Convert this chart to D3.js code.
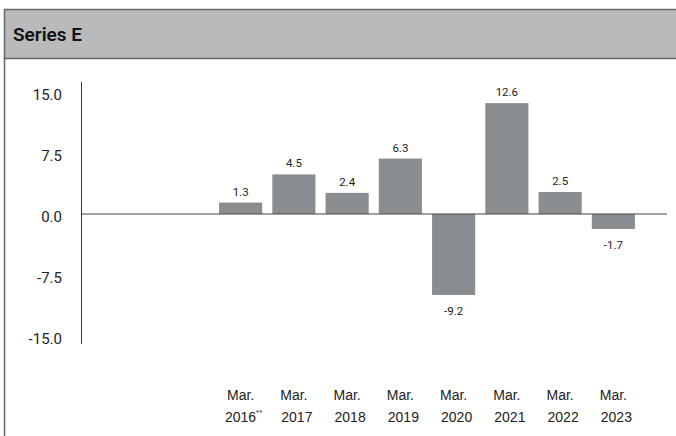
<!DOCTYPE html>
<html>
<head>
<meta charset="utf-8">
<script src="https://cdn.jsdelivr.net/npm/d3@7"></script>
<style>
  body { margin: 0; background: #fff; }
  svg { display: block; font-family: Roboto, "Open Sans", sans-serif; }
</style>
</head>
<body>
<svg width="676" height="436"></svg>
<script>
const title = 'Series E';
const years = ['2016', '2017', '2018', '2019', '2020', '2021', '2022', '2023'];
const values = [1.3, 4.5, 2.4, 6.3, -9.2, 12.6, 2.5, -1.7];
const yTicks = [15, 7.5, 0, -7.5, -15];

const svg = d3.select('svg');

// header band
svg.append('rect')
  .attr('x', 4.5).attr('y', 9.5)
  .attr('width', 680).attr('height', 49)
  .attr('fill', '#b9babc')
  .attr('stroke', '#666').attr('stroke-width', 1.5);
svg.append('line')
  .attr('x1', 4.5).attr('x2', 4.5)
  .attr('y1', 58).attr('y2', 436)
  .attr('stroke', '#666').attr('stroke-width', 1.5);
svg.append('text')
  .attr('x', 13).attr('y', 41)
  .attr('font-size', 19).attr('font-weight', 600)
  .attr('fill', '#111')
  .text(title);

const x = d3.scaleBand()
  .domain(years)
  .range([214, 640])
  .paddingInner(0.19)
  .paddingOuter(0.095);

const y = d3.scaleLinear()
  .domain([-15, 15])
  .range([346, 82]);

// label positions for the y tick text
const yLab = d3.scaleLinear()
  .domain([-15, 15])
  .range([339, 95]);

const g = svg.append('g');

// y axis line
g.append('line')
  .attr('x1', 81.5).attr('x2', 81.5)
  .attr('y1', y(15)).attr('y2', y(-15) - 2)
  .attr('stroke', '#333').attr('stroke-width', 1);

const yAxis = d3.axisLeft(yLab)
  .tickValues(yTicks)
  .tickSize(0)
  .tickFormat(d => d.toFixed(1));

g.append('g')
  .attr('transform', 'translate(62,0)')
  .call(yAxis)
  .call(s => s.select('.domain').remove())
  .call(s => s.selectAll('text')
    .attr('x', 0)
    .attr('font-size', 15)
    .attr('font-family', 'Roboto, sans-serif')
    .attr('fill', '#222'));

// bars
g.selectAll('rect.bar')
  .data(values)
  .enter()
  .append('rect')
  .attr('class', 'bar')
  .attr('x', (d, i) => x(years[i]))
  .attr('width', x.bandwidth())
  .attr('y', d => y(Math.max(0, d)))
  .attr('height', d => Math.abs(y(d) - y(0)))
  .attr('fill', '#8a8d90');

// zero line
g.append('line')
  .attr('x1', 81.5).attr('x2', 667)
  .attr('y1', y(0)).attr('y2', y(0))
  .attr('stroke', '#444').attr('stroke-width', 1.2);

// value labels
g.selectAll('text.val')
  .data(values)
  .enter()
  .append('text')
  .attr('class', 'val')
  .attr('x', (d, i) => x(years[i]) + x.bandwidth() / 2)
  .attr('y', d => d >= 0 ? y(d) - 7 : y(d) + 20)
  .attr('text-anchor', 'middle')
  .attr('font-size', 11.5)
  .attr('fill', '#222')
  .text(d => d.toFixed(1));

// category labels
const xAxis = d3.axisBottom(x).tickSize(0).tickFormat('');
const xg = g.append('g')
  .attr('transform', 'translate(0,380)')
  .call(xAxis)
  .call(s => s.select('.domain').remove());

xg.selectAll('.tick').each(function(d, i) {
  const t = d3.select(this).append('text')
    .attr('fill', '#222')
    .attr('font-size', 14)
    .attr('text-anchor', 'middle');
  t.append('tspan').attr('x', 0).attr('y', 20).text('Mar.');
  t.append('tspan').attr('x', 3).attr('y', 42).text(d);
  if (i === 0) {
    t.append('tspan').attr('font-size', 8).attr('dy', -7).text('**');
  }
});
</script>
</body>
</html>
